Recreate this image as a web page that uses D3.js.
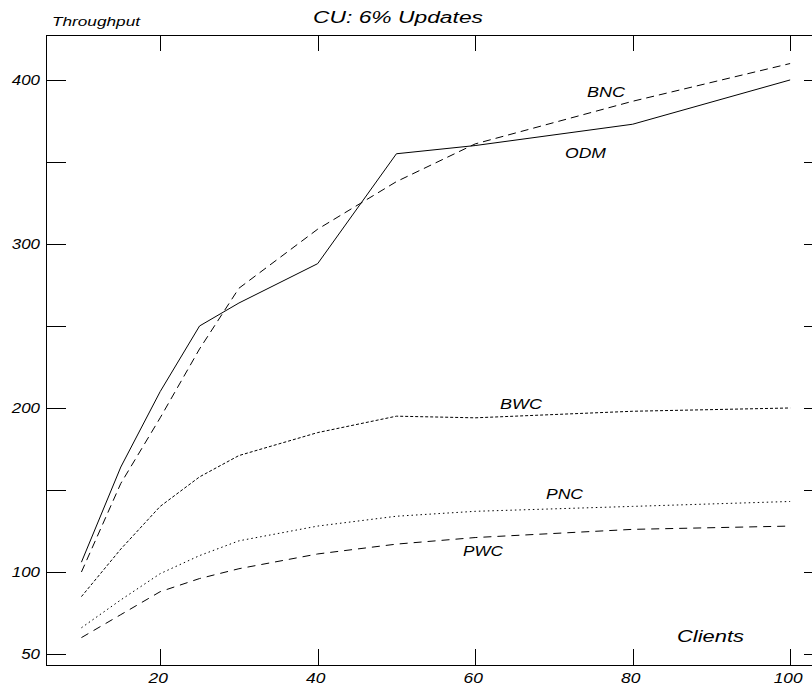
<!DOCTYPE html>
<html>
<head>
<meta charset="utf-8">
<script src="https://cdn.jsdelivr.net/npm/d3@7"></script>
<style>
  html, body { margin: 0; padding: 0; background: #fff; }
  svg { display: block; }
  text { font-family: "Liberation Sans", Arial, Helvetica, sans-serif; font-style: italic; fill: #000; }
</style>
</head>
<body>
<svg id="chart" width="812" height="685"></svg>
<script>
// ---- data ----
const clients = [10, 15, 20, 25, 30, 40, 50, 60, 80, 100];
const odm = [106, 164, 210, 250, 264, 288, 355, 360, 373, 400];
const bnc = [100, 154, 194, 236, 273, 309, 338, 361, 387, 410];
const bwc = [85, 114, 140, 158, 171, 185, 195, 194, 198, 200];
const pnc = [66, 83, 99, 110, 119, 128, 134, 137, 140, 143];
const pwc = [60, 74, 88, 96, 102, 111, 117, 121, 126, 128];
const xTicks = [20, 40, 60, 80, 100];
const yTicks = [50, 100, 150, 200, 250, 300, 350, 400];
const yLabels = [50, 100, 200, 300, 400];
const titleText = "CU: 6% Updates";
const yTitle = "Throughput";
const xTitle = "Clients";

(function () {
const svg = d3.select("#chart");
const mLeft = 46, mRight = 824, mTop = 35, mBottom = 665;
const x = d3.scaleLinear().domain([5.5, 104.3]).range([mLeft, mRight]);
const y = d3.scaleLinear().domain([43.3, 427.4]).range([mBottom, mTop]);

// frame
svg.append("rect").attr("x", mLeft).attr("y", mTop)
  .attr("width", mRight - mLeft).attr("height", mBottom - mTop)
  .attr("fill", "none").attr("stroke", "#000").attr("stroke-width", 1)
  .attr("shape-rendering", "crispEdges");

// axes via d3 axis generators
const xb = svg.append("g").attr("transform", `translate(0,${mBottom})`)
  .call(d3.axisTop(x).tickValues(xTicks).tickSize(16).tickFormat(""));
const xt = svg.append("g").attr("transform", `translate(0,${mTop})`)
  .call(d3.axisBottom(x).tickValues(xTicks).tickSize(16).tickFormat(""));
const yl = svg.append("g").attr("transform", `translate(${mLeft},0)`)
  .call(d3.axisRight(y).tickValues(yTicks).tickSize(20).tickFormat(""));
const yr = svg.append("g").attr("transform", `translate(${mRight},0)`)
  .call(d3.axisLeft(y).tickValues(yTicks).tickSize(20).tickFormat(""));
[xb, xt, yl, yr].forEach(g => {
  g.select(".domain").remove();
  g.selectAll("line").attr("stroke", "#000").attr("shape-rendering", "crispEdges");
});

// tick labels
const digitW = 9.4;
svg.append("g").selectAll("text").data(xTicks).join("text")
  .attr("x", d => x(d) - 2)
  .attr("y", 683)
  .attr("text-anchor", "middle")
  .attr("font-size", 14)
  .attr("textLength", d => String(d).length * digitW + 0.5)
  .attr("lengthAdjust", "spacingAndGlyphs")
  .text(d => d);

svg.append("g").selectAll("text").data(yLabels).join("text")
  .attr("x", 40)
  .attr("y", d => y(d) + 5)
  .attr("text-anchor", "end")
  .attr("font-size", 14)
  .attr("textLength", d => String(d).length * digitW)
  .attr("lengthAdjust", "spacingAndGlyphs")
  .text(d => d);

// titles
svg.append("text").attr("x", 313).attr("y", 23).attr("font-size", 16)
  .attr("textLength", 170).attr("lengthAdjust", "spacingAndGlyphs").text(titleText);
svg.append("text").attr("x", 52).attr("y", 26).attr("font-size", 13)
  .attr("textLength", 88).attr("lengthAdjust", "spacingAndGlyphs").text(yTitle);
svg.append("text").attr("x", 677).attr("y", 642).attr("font-size", 16)
  .attr("textLength", 67).attr("lengthAdjust", "spacingAndGlyphs").text(xTitle);

// series
const series = [
  { name: "ODM", values: odm, dash: null, lx: 565, ly: 158, lw: 41 },
  { name: "BNC", values: bnc, dash: "8,5", lx: 587, ly: 97, lw: 38 },
  { name: "BWC", values: bwc, dash: "3,2", lx: 500, ly: 409, lw: 42 },
  { name: "PNC", values: pnc, dash: "1.5,3", lx: 546, ly: 499, lw: 37 },
  { name: "PWC", values: pwc, dash: "8,6", lx: 463, ly: 556, lw: 40 }
];
const line = d3.line().x(d => x(d[0])).y(d => y(d[1]));
series.forEach(s => {
  const pts = clients.map((c, i) => [c, s.values[i]]);
  const p = svg.append("path").datum(pts).attr("d", line)
    .attr("fill", "none").attr("stroke", "#000").attr("stroke-width", 1);
  if (s.dash) p.attr("stroke-dasharray", s.dash);
  svg.append("text").attr("x", s.lx).attr("y", s.ly).attr("font-size", 14)
    .attr("textLength", s.lw).attr("lengthAdjust", "spacingAndGlyphs").text(s.name);
});
})();
</script>
</body>
</html>
